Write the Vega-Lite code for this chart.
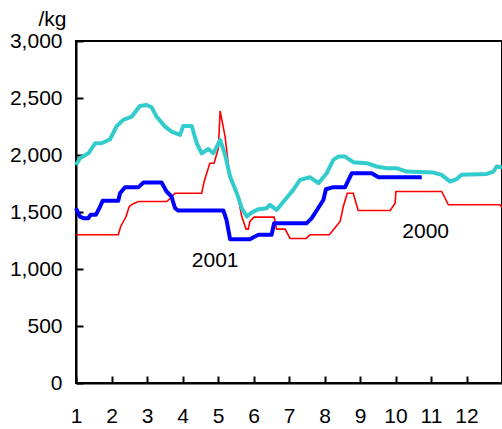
{
  "$schema": "https://vega.github.io/schema/vega-lite/v6.json",
  "width": 426,
  "height": 342,
  "autosize": {"type": "none"},
  "padding": {"left": 76, "top": 41, "right": 0, "bottom": 46},
  "background": "white",
  "config": {
    "view": {"stroke": "black", "strokeWidth": 2},
    "font": "Liberation Sans",
    "axis": {"grid": false, "domainColor": "black", "domainWidth": 2, "tickColor": "black", "tickWidth": 2, "labelColor": "black", "labelFont": "Liberation Sans", "labelFontSize": 21}
  },
  "datasets": {
    "y2000": [
      {"month": 1.0, "price": 1300}, {"month": 2.19, "price": 1300}, {"month": 2.26, "price": 1373},
      {"month": 2.41, "price": 1460}, {"month": 2.5, "price": 1548}, {"month": 2.6, "price": 1571},
      {"month": 2.76, "price": 1592}, {"month": 3.55, "price": 1592}, {"month": 3.65, "price": 1618},
      {"month": 3.79, "price": 1665}, {"month": 4.54, "price": 1665}, {"month": 4.61, "price": 1767},
      {"month": 4.77, "price": 1928}, {"month": 4.89, "price": 1928}, {"month": 5.01, "price": 2059},
      {"month": 5.06, "price": 2386}, {"month": 5.2, "price": 2161}, {"month": 5.34, "price": 1782},
      {"month": 5.54, "price": 1665}, {"month": 5.67, "price": 1460}, {"month": 5.79, "price": 1350},
      {"month": 5.85, "price": 1350}, {"month": 5.9, "price": 1417}, {"month": 6.01, "price": 1455},
      {"month": 6.58, "price": 1455}, {"month": 6.65, "price": 1350}, {"month": 6.89, "price": 1350},
      {"month": 7.03, "price": 1268}, {"month": 7.48, "price": 1268}, {"month": 7.59, "price": 1300},
      {"month": 8.14, "price": 1300}, {"month": 8.25, "price": 1344}, {"month": 8.44, "price": 1417},
      {"month": 8.53, "price": 1548}, {"month": 8.64, "price": 1665}, {"month": 8.81, "price": 1665},
      {"month": 8.89, "price": 1577}, {"month": 8.95, "price": 1513}, {"month": 9.85, "price": 1513},
      {"month": 9.99, "price": 1577}, {"month": 10.01, "price": 1680}, {"month": 11.3, "price": 1680},
      {"month": 11.49, "price": 1563}, {"month": 12.94, "price": 1563}, {"month": 13.0, "price": 1542}
    ],
    "y2001": [
      {"month": 1.0, "price": 1533}, {"month": 1.11, "price": 1460}, {"month": 1.21, "price": 1446},
      {"month": 1.35, "price": 1446}, {"month": 1.41, "price": 1475}, {"month": 1.56, "price": 1475},
      {"month": 1.68, "price": 1548}, {"month": 1.75, "price": 1598}, {"month": 2.19, "price": 1598},
      {"month": 2.24, "price": 1665}, {"month": 2.38, "price": 1718}, {"month": 2.76, "price": 1718},
      {"month": 2.9, "price": 1758}, {"month": 3.41, "price": 1758}, {"month": 3.55, "price": 1680},
      {"month": 3.69, "price": 1636}, {"month": 3.79, "price": 1533}, {"month": 3.88, "price": 1513},
      {"month": 5.15, "price": 1513}, {"month": 5.24, "price": 1431}, {"month": 5.34, "price": 1262},
      {"month": 5.9, "price": 1262}, {"month": 6.0, "price": 1279}, {"month": 6.14, "price": 1300},
      {"month": 6.51, "price": 1300}, {"month": 6.58, "price": 1402}, {"month": 7.5, "price": 1402},
      {"month": 7.64, "price": 1446}, {"month": 7.78, "price": 1513}, {"month": 7.97, "price": 1607},
      {"month": 8.04, "price": 1700}, {"month": 8.25, "price": 1718}, {"month": 8.58, "price": 1718},
      {"month": 8.77, "price": 1840}, {"month": 9.33, "price": 1840}, {"month": 9.52, "price": 1805},
      {"month": 10.74, "price": 1805}
    ],
    "avg": [
      {"month": 1.0, "price": 1913}, {"month": 1.11, "price": 1972}, {"month": 1.35, "price": 2015},
      {"month": 1.54, "price": 2103}, {"month": 1.72, "price": 2103}, {"month": 1.96, "price": 2138},
      {"month": 2.15, "price": 2255}, {"month": 2.33, "price": 2308}, {"month": 2.57, "price": 2337},
      {"month": 2.8, "price": 2430}, {"month": 2.99, "price": 2439}, {"month": 3.13, "price": 2419},
      {"month": 3.27, "price": 2337}, {"month": 3.51, "price": 2249}, {"month": 3.69, "price": 2205},
      {"month": 3.93, "price": 2176}, {"month": 4.02, "price": 2255}, {"month": 4.26, "price": 2255},
      {"month": 4.4, "price": 2103}, {"month": 4.54, "price": 2015}, {"month": 4.73, "price": 2053},
      {"month": 4.87, "price": 2015}, {"month": 5.06, "price": 2132}, {"month": 5.2, "price": 2001},
      {"month": 5.34, "price": 1811}, {"month": 5.53, "price": 1665}, {"month": 5.67, "price": 1533},
      {"month": 5.81, "price": 1460}, {"month": 5.95, "price": 1496}, {"month": 6.14, "price": 1525},
      {"month": 6.37, "price": 1533}, {"month": 6.46, "price": 1563}, {"month": 6.65, "price": 1519},
      {"month": 6.89, "price": 1607}, {"month": 7.12, "price": 1694}, {"month": 7.31, "price": 1782},
      {"month": 7.59, "price": 1805}, {"month": 7.83, "price": 1753}, {"month": 8.06, "price": 1840},
      {"month": 8.25, "price": 1957}, {"month": 8.39, "price": 1986}, {"month": 8.58, "price": 1986},
      {"month": 8.81, "price": 1937}, {"month": 9.19, "price": 1928}, {"month": 9.47, "price": 1899},
      {"month": 9.75, "price": 1884}, {"month": 10.03, "price": 1884}, {"month": 10.31, "price": 1855},
      {"month": 11.07, "price": 1846}, {"month": 11.3, "price": 1826}, {"month": 11.54, "price": 1767},
      {"month": 11.72, "price": 1788}, {"month": 11.86, "price": 1826}, {"month": 12.57, "price": 1834},
      {"month": 12.76, "price": 1855}, {"month": 12.85, "price": 1899}, {"month": 13.0, "price": 1893}
    ],
    "labels": [
      {"month": 4.92, "price": 1066, "text": "2001"},
      {"month": 10.85, "price": 1323, "text": "2000"}
    ]
  },
  "encoding": {
    "x": {
      "field": "month", "type": "quantitative",
      "scale": {"domain": [1, 13], "nice": false, "zero": false},
      "axis": {"values": [1, 2, 3, 4, 5, 6, 7, 8, 9, 10, 11, 12], "title": null, "tickSize": -7, "labelPadding": 29, "labelFlush": false}
    },
    "y": {
      "field": "price", "type": "quantitative",
      "scale": {"domain": [0, 3000], "nice": false},
      "axis": {"values": [0, 500, 1000, 1500, 2000, 2500, 3000], "format": ",d", "tickSize": -7, "labelPadding": 21,
        "title": "/kg", "titleAngle": 0, "titleAlign": "left", "titleBaseline": "alphabetic", "titleX": -38, "titleY": -16,
        "titleFont": "Liberation Sans", "titleFontSize": 21, "titleFontWeight": "normal", "titleColor": "black"}
    }
  },
  "layer": [
    {"data": {"name": "y2000"}, "mark": {"type": "line", "color": "#ff0000", "strokeWidth": 1.6}},
    {"data": {"name": "y2001"}, "mark": {"type": "line", "color": "#0000ff", "strokeWidth": 4, "strokeJoin": "round"}},
    {"data": {"name": "avg"}, "mark": {"type": "line", "color": "#33cccc", "strokeWidth": 4, "strokeJoin": "round"}},
    {"data": {"name": "labels"}, "mark": {"type": "text", "font": "Liberation Sans", "fontSize": 21, "color": "black", "align": "center", "baseline": "middle"},
      "encoding": {"text": {"field": "text"}}}
  ]
}
